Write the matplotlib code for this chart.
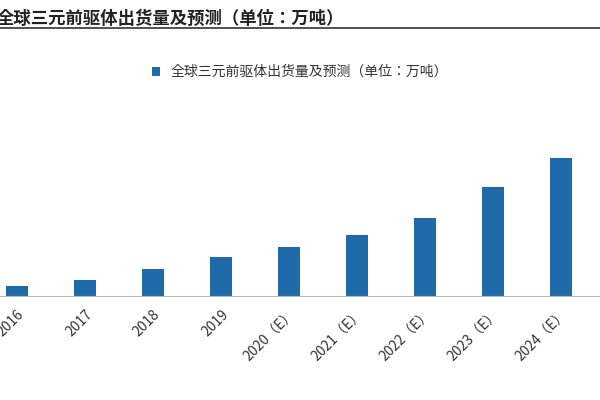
import matplotlib.pyplot as plt
from matplotlib.lines import Line2D

plt.rcParams["font.family"] = ["Noto Sans CJK JP", "Noto Sans CJK SC",
                               "Noto Sans CJK TC", "DejaVu Sans"]

years = ["2016", "2017", "2018", "2019", "2020（E）", "2021（E）",
         "2022（E）", "2023（E）", "2024（E）", "2025（E）"]
shipments = [10, 16, 27, 39, 49, 61, 78, 109, 138, 170]

fig = plt.figure(figsize=(6, 4), dpi=100)

# title bar
fig.text(-0.005, 0.975, "全球三元前驱体出货量及预测（单位：万吨）",
         fontsize=12.5, fontweight="bold", va="top", ha="left", color="#222222")
fig.add_artist(Line2D([0, 1], [0.93, 0.93], color="#333333", lw=1.2))

ax = fig.add_axes([0, 0.26, 1, 0.375])
ax.bar(range(len(years)), shipments, width=0.32, color="#1F6BAA",
       label="全球三元前驱体出货量及预测（单位：万吨）")
ax.set_xticks(range(len(years)))
ax.set_xticklabels(years, rotation=45, ha="right", rotation_mode="anchor",
                   fontsize=10, color="#333333")
ax.set_xlim(-0.25, 8.57)
ax.set_ylim(0, 150)
ax.tick_params(axis="x", length=0, pad=8)
ax.set_yticks([])
for s in ["top", "right", "left"]:
    ax.spines[s].set_visible(False)
ax.spines["bottom"].set_color("#BBBBBB")

fig.legend(loc="center", bbox_to_anchor=(0.5, 0.82), frameon=False,
           fontsize=10, handlelength=0.6, handleheight=0.6,
           labelcolor="#333333")

fig.savefig("out.png")
